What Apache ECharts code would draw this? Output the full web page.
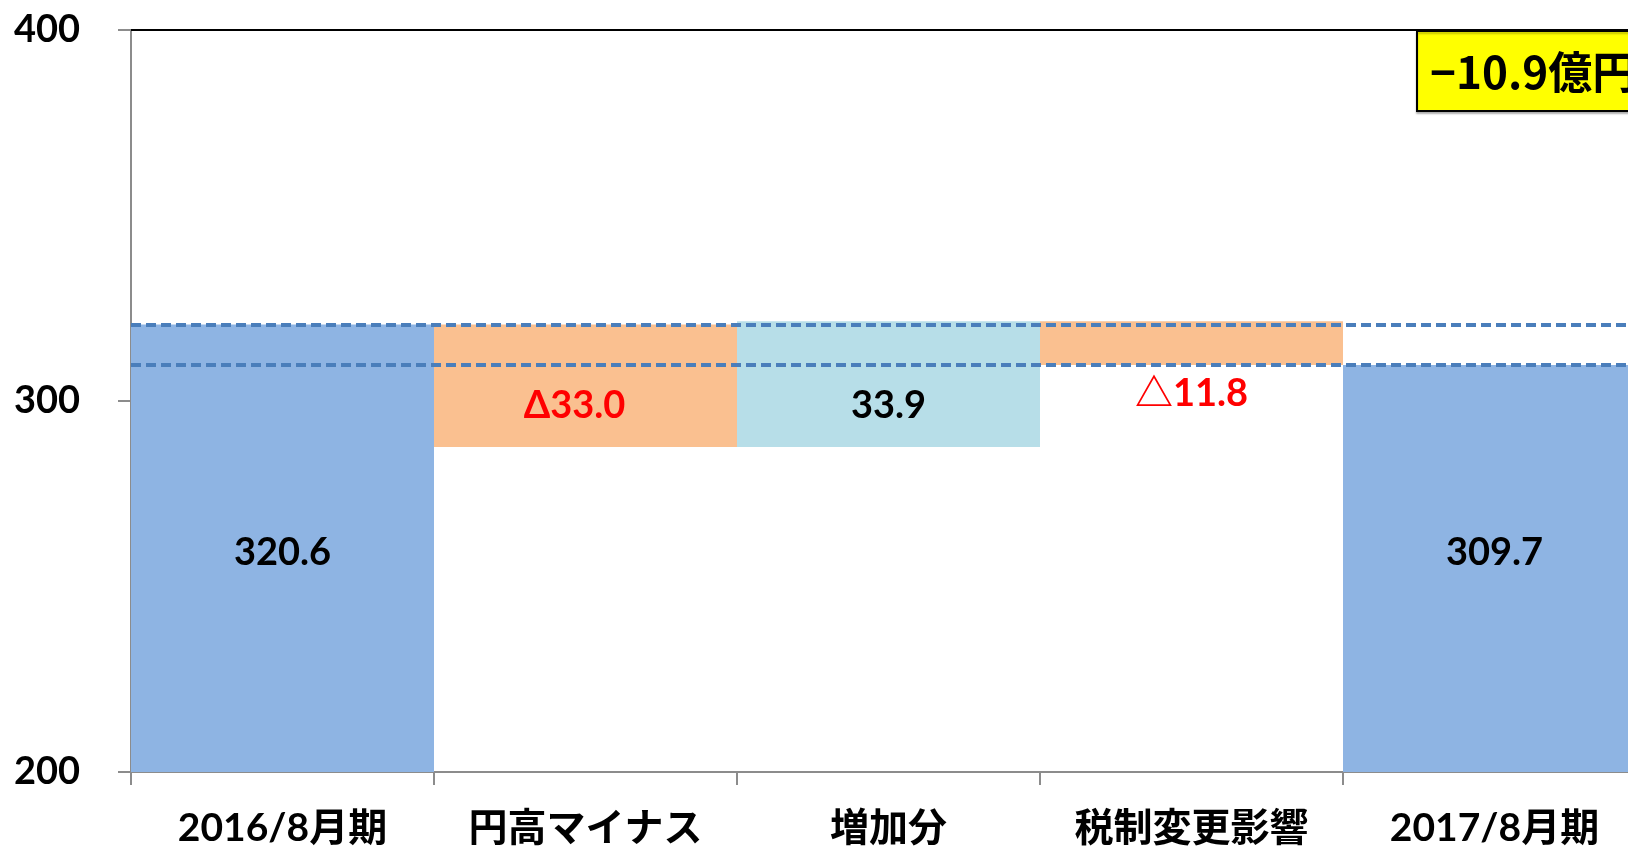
<!DOCTYPE html>
<html>
<head>
<meta charset="utf-8">
<script src="https://cdn.jsdelivr.net/npm/echarts@6/dist/echarts.min.js"></script>
<style>
html,body{margin:0;padding:0;background:#fff;overflow:hidden;}
#chart{width:1628px;height:850px;}
</style>
</head>
<body>
<div id="chart"></div>
<script>
const categories = ['2016/8月期', '円高マイナス', '増加分', '税制変更影響', '2017/8月期'];
const startValue = 320.6;
const deltas = [-33.0, 33.9, -11.8];
const endValue = 309.7;
const deltaLabels = ['Δ33.0', '33.9', '△11.8'];
const yMin = 200, yMax = 400, yInterval = 100;
const summaryText = '−10.9億円';

const FONT = "Lato, 'Noto Sans CJK JP', sans-serif";

// build waterfall stacks
const baseData = ['-'];
const totalData = [startValue];
const decData = ['-'];
const incData = ['-'];
let running = startValue;
deltas.forEach((d, i) => {
  if (d < 0) {
    running += d;
    baseData.push(running);
    decData.push({
      value: -d,
      label: i === deltas.length - 1
        ? { show: true, position: 'bottom', distance: 10, formatter: deltaLabels[i] }
        : { show: true, position: 'insideBottom', distance: 22, offset: [-11, 0], formatter: deltaLabels[i] }
    });
    incData.push('-');
  } else {
    baseData.push(running);
    running += d;
    incData.push({
      value: d,
      label: { show: true, position: 'insideBottom', distance: 22, formatter: deltaLabels[i] }
    });
    decData.push('-');
  }
  totalData.push('-');
});
baseData.push('-');
totalData.push(endValue);
decData.push('-');
incData.push('-');

const chart = echarts.init(document.getElementById('chart'));
chart.setOption({
  animation: false,
  grid: { left: 131, top: 30, bottom: 78, width: 1515, containLabel: false, outerBoundsMode: 'none' },
  xAxis: {
    type: 'category',
    data: categories,
    axisLine: { lineStyle: { color: '#8c8c8c', width: 2 } },
    axisTick: { show: true, length: 13, lineStyle: { color: '#8c8c8c', width: 2 } },
    axisLabel: { color: '#000', fontWeight: 'bold', fontSize: 39, fontFamily: FONT, margin: 37, interval: 0 }
  },
  yAxis: {
    type: 'value',
    min: yMin, max: yMax, interval: yInterval,
    axisLine: { show: true, lineStyle: { color: '#8c8c8c', width: 2 } },
    axisTick: { show: true, length: 13, lineStyle: { color: '#8c8c8c', width: 2 } },
    splitLine: { show: false },
    axisLabel: { color: '#000', fontWeight: 'bold', fontSize: 38, fontFamily: FONT, margin: 51 }
  },
  series: [
    {
      name: 'base', type: 'bar', stack: 'w', clip: true,
      barCategoryGap: '0%', barGap: '0%',
      itemStyle: { color: 'transparent' },
      silent: true,
      data: baseData,
      markLine: {
        silent: true, symbol: 'none', label: { show: false },
        lineStyle: { color: '#000', width: 2, type: 'solid' },
        data: [{ yAxis: yMax }]
      }
    },
    {
      name: 'total', type: 'bar', stack: 'w', clip: true,
      barCategoryGap: '0%', barGap: '0%',
      itemStyle: { color: '#8EB4E3' },
      label: { show: true, position: 'insideBottom', distance: 200, color: '#000', fontWeight: 'bold', fontSize: 38, fontFamily: FONT },
      data: totalData
    },
    {
      name: 'decrease', type: 'bar', stack: 'w', clip: true,
      barCategoryGap: '0%', barGap: '0%',
      itemStyle: { color: '#FAC090' },
      label: { show: true, color: '#FF0000', fontWeight: 'bold', fontSize: 38, fontFamily: FONT },
      data: decData
    },
    {
      name: 'increase', type: 'bar', stack: 'w', clip: true,
      barCategoryGap: '0%', barGap: '0%',
      itemStyle: { color: '#B7DEE8' },
      label: { show: true, color: '#000', fontWeight: 'bold', fontSize: 38, fontFamily: FONT },
      data: incData,
      markLine: {
        silent: true, symbol: 'none', label: { show: false },
        lineStyle: { color: '#4A7EBB', width: 4, type: [10, 5] },
        data: [{ yAxis: startValue }, { yAxis: endValue }]
      }
    }
  ],
  graphic: [
    {
      type: 'rect', z: 100,
      shape: { x: 1417, y: 31, width: 260, height: 80 },
      style: { fill: '#FFFF00', stroke: '#000', lineWidth: 2, shadowColor: 'rgba(0,0,0,0.25)', shadowOffsetY: 2, shadowBlur: 2 }
    },
    {
      type: 'text', z: 101,
      x: 1430, y: 72,
      style: { text: summaryText, fill: '#000', font: "bold 44px 'Noto Sans CJK JP', sans-serif", verticalAlign: 'middle', align: 'left' }
    }
  ]
});
</script>
</body>
</html>
